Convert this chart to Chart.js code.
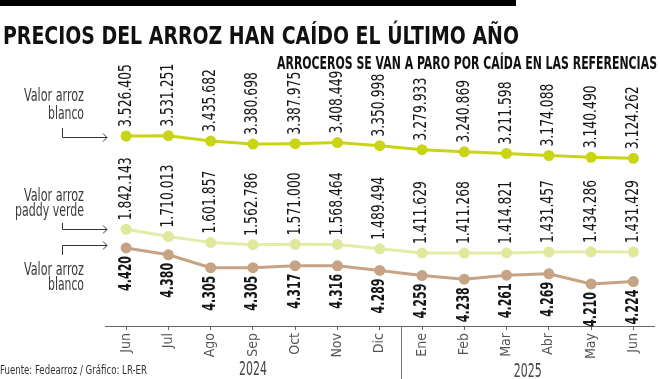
<!DOCTYPE html>
<html>
<head>
<meta charset="utf-8">
<title>Precios del arroz</title>
<script src="https://cdn.jsdelivr.net/npm/chart.js@4.4.0/dist/chart.umd.min.js"></script>
<style>
  html, body { margin: 0; padding: 0; background: #fff; }
  #wrap { position: relative; width: 660px; height: 379px; }
</style>
</head>
<body>
<div id="wrap"><canvas id="chart" width="660" height="379"></canvas></div>
<script>
// datos
var meses = ['Jun', 'Jul', 'Ago', 'Sep', 'Oct', 'Nov', 'Dic', 'Ene', 'Feb', 'Mar', 'Abr', 'May', 'Jun'];
var anios = ['2024', '2025'];
var arrozBlancoTon = [3526405, 3531251, 3435682, 3380698, 3387975, 3408449, 3350998, 3279933, 3240869, 3211598, 3174088, 3140490, 3124262];
var paddyVerde = [1842143, 1710013, 1601857, 1562786, 1571000, 1568464, 1489494, 1411629, 1411268, 1414821, 1431457, 1434286, 1431429];
var arrozBlancoKg = [4420, 4380, 4305, 4305, 4317, 4316, 4289, 4259, 4238, 4261, 4269, 4210, 4224];

var NARROW = "'Liberation Sans Narrow', 'DejaVu Sans Condensed', sans-serif";

function puntos(n) {
    return n.toString().replace(/\B(?=(\d{3})+(?!\d))/g, '.');
}

function texto(ctx, t, x, y, font, color, align, maxW) {
    ctx.font = font;
    ctx.fillStyle = color;
    ctx.textAlign = align;
    ctx.textBaseline = 'alphabetic';
    if (maxW) ctx.fillText(t, x, y, maxW); else ctx.fillText(t, x, y);
}

// flecha en L hacia la derecha
function flecha(ctx, x0, y0, yLinea, x1) {
    ctx.beginPath();
    ctx.moveTo(x0, y0);
    ctx.lineTo(x0, yLinea);
    ctx.lineTo(x1, yLinea);
    ctx.moveTo(x1 - 4, yLinea - 4);
    ctx.lineTo(x1, yLinea);
    ctx.lineTo(x1 - 4, yLinea + 4);
    ctx.stroke();
}

// etiquetas verticales de cada punto (se comprimen para parecer condensadas)
var etiquetas = {
    id: 'etiquetas',
    afterDatasetsDraw: function(chart) {
        var ctx = chart.ctx;
        ctx.save();
        ctx.font = '17px ' + NARROW;
        var escNormal = 63 / ctx.measureText('3.526.405').width;
        ctx.font = 'bold 17px ' + NARROW;
        var escBold = 35 / ctx.measureText('4.420').width;
        ctx.restore();

        chart.data.datasets.forEach(function(ds, i) {
            var meta = chart.getDatasetMeta(i);
            meta.data.forEach(function(pt, j) {
                ctx.save();
                ctx.translate(pt.x, pt.y);
                ctx.rotate(-Math.PI / 2);
                ctx.fillStyle = '#161616';
                ctx.textBaseline = 'middle';
                if (ds.abajo) {
                    ctx.font = 'bold 17px ' + NARROW;
                    ctx.textAlign = 'right';
                    ctx.translate(-8, 0);
                    ctx.scale(escBold, 1);
                    ctx.fillText(puntos(ds.data[j]), 0, 0);
                } else {
                    ctx.font = '17px ' + NARROW;
                    ctx.textAlign = 'left';
                    ctx.translate(9, 0);
                    ctx.scale(escNormal, 1);
                    ctx.fillText(puntos(ds.data[j]), 0, 0);
                }
                ctx.restore();
            });
        });
    }
};

// titulos, notas laterales, años y fuente
var adornos = {
    id: 'adornos',
    afterDraw: function(chart) {
        var ctx = chart.ctx;
        var x = chart.scales.x;
        var abajo = chart.chartArea.bottom;
        ctx.save();

        ctx.fillStyle = '#000';
        ctx.fillRect(0, 0, 516, 6);
        texto(ctx, 'PRECIOS DEL ARROZ HAN CAÍDO EL ÚLTIMO AÑO', 3, 44, 'bold 25px ' + NARROW, '#111', 'left', 516);
        texto(ctx, 'ARROCEROS SE VAN A PARO POR CAÍDA EN LAS REFERENCIAS', 657, 69, 'bold 17px ' + NARROW, '#111', 'right', 380);

        var f = '17px ' + NARROW;
        texto(ctx, 'Valor arroz', 84, 101, f, '#3a3a3a', 'right', 60);
        texto(ctx, 'blanco', 84, 119, f, '#3a3a3a', 'right', 36);
        texto(ctx, 'Valor arroz', 84, 201, f, '#3a3a3a', 'right', 60);
        texto(ctx, 'paddy verde', 84, 216, f, '#3a3a3a', 'right', 69);
        texto(ctx, 'Valor arroz', 84, 275, f, '#3a3a3a', 'right', 60);
        texto(ctx, 'blanco', 84, 290, f, '#3a3a3a', 'right', 36);

        ctx.strokeStyle = '#333';
        ctx.lineWidth = 1;
        flecha(ctx, 62.5, 128, 137.5, 107);
        flecha(ctx, 62.5, 223, 229.5, 107);
        flecha(ctx, 62.5, 255, 245.5, 107);

        // separador entre años
        var sep = Math.round((x.getPixelForValue(6) + x.getPixelForValue(7)) / 2) + 0.5;
        ctx.strokeStyle = '#777';
        ctx.beginPath();
        ctx.moveTo(sep, abajo);
        ctx.lineTo(sep, chart.height);
        ctx.stroke();

        var c1 = x.getPixelForValue(3);
        var c2 = (x.getPixelForValue(9) + x.getPixelForValue(10)) / 2;
        texto(ctx, anios[0], c1, 375, '20px ' + NARROW, '#444', 'center', 28);
        texto(ctx, anios[1], c2, 377, '20px ' + NARROW, '#444', 'center', 28);

        texto(ctx, 'Fuente: Fedearroz / Gráfico: LR-ER', 0, 374, '12px ' + NARROW, '#333', 'left', 147);
        ctx.restore();
    }
};

var ctx = document.getElementById('chart').getContext('2d');
window.chart = new Chart(ctx, {
    type: 'line',
    data: {
        labels: meses,
        datasets: [
            {
                label: 'Valor arroz blanco (ton)',
                data: arrozBlancoTon,
                yAxisID: 'y',
                borderColor: '#c9d416',
                backgroundColor: '#c9d416',
                borderWidth: 3,
                pointRadius: 5.5,
                pointBorderWidth: 0
            },
            {
                label: 'Valor arroz paddy verde',
                data: paddyVerde,
                yAxisID: 'y',
                borderColor: '#e4eca8',
                backgroundColor: '#dfe89c',
                borderWidth: 3,
                pointRadius: 5.5,
                pointBorderWidth: 0
            },
            {
                label: 'Valor arroz blanco (kg)',
                data: arrozBlancoKg,
                yAxisID: 'y2',
                abajo: true,
                borderColor: '#c6a384',
                backgroundColor: '#c6a384',
                borderWidth: 3,
                pointRadius: 5.5,
                pointBorderWidth: 0
            }
        ]
    },
    options: {
        responsive: false,
        animation: false,
        layout: { padding: { left: 105, right: 4, top: 60, bottom: 0 } },
        plugins: {
            legend: { display: false },
            tooltip: { enabled: false }
        },
        scales: {
            x: {
                offset: true,
                afterFit: function(scale) { scale.height = 53; },
                grid: { drawOnChartArea: false, tickLength: 4, color: '#666' },
                border: { color: '#666' },
                ticks: {
                    autoSkip: false,
                    minRotation: 90,
                    maxRotation: 90,
                    padding: 3,
                    color: '#555',
                    font: { family: NARROW, size: 14 }
                }
            },
            y: { display: false, min: 95000, max: 4899000 },
            y2: { display: false, min: 3965, max: 5516 }
        }
    },
    plugins: [etiquetas, adornos]
});
</script>
</body>
</html>
